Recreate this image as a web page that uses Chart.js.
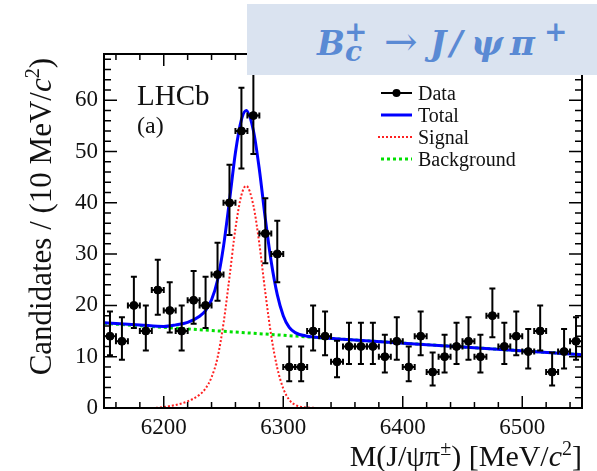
<!DOCTYPE html>
<html>
<head>
<meta charset="utf-8">
<script src="https://cdn.jsdelivr.net/npm/chart.js@4.4.0/dist/chart.umd.min.js"></script>
<style>
body { margin: 0; background: #fff; }
#wrap { position: relative; width: 597px; height: 471px; overflow: hidden; }
#myChart { position: absolute; left: 0; top: 0; }
#tbox { position: absolute; left: 247px; top: 4px; width: 350px; height: 71px; background: #dae3f0; }
#tbox span { position: absolute; color: #5a8ad4; font-family: 'DejaVu Serif', serif; font-weight: bold; font-style: italic; line-height: 1; white-space: nowrap; }
</style>
</head>
<body>
<div id="wrap">
  <canvas id="myChart" width="597" height="471"></canvas>
  <div id="tbox">
    <span style="left:70px; top:23px; font-size:33px;">B</span>
    <span style="left:97px; top:14px; font-size:28px;">+</span>
    <span style="left:98px; top:34px; font-size:28px;">c</span>
    <span style="left:137px; top:17px; font-size:40px; font-weight:normal; font-style:normal;">→</span>
    <span style="left:183px; top:22px; font-size:34px;">J</span>
    <span style="left:203px; top:22px; font-size:34px;">/</span>
    <span style="left:224px; top:22px; font-size:34px;">ψ</span>
    <span style="left:263px; top:22px; font-size:34px;">π</span>
    <span style="left:297px; top:14px; font-size:28px;">+</span>
  </div>
</div>
<script>
// binned data, 10 MeV bins
var massBins = [6155, 6165, 6175, 6185, 6195, 6205, 6215, 6225, 6235, 6245,
                6255, 6265, 6275, 6285, 6295, 6305, 6315, 6325, 6335, 6345,
                6355, 6365, 6375, 6385, 6395, 6405, 6415, 6425, 6435, 6445,
                6455, 6465, 6475, 6485, 6495, 6505, 6515, 6525, 6535, 6545]
var counts = [14, 13, 20, 15, 23, 19, 15, 21, 20, 26,
              40, 54, 57, 34, 30, 8, 8, 15, 14, 9,
              12, 12, 12, 10, 13, 8, 14, 7, 10, 12,
              13, 10, 18, 12, 14, 11, 15, 7, 11, 13]
var errLo = [3.7, 3.6, 4.4, 3.8, 4.8, 4.3, 3.8, 4.6, 4.4, 5.1,
             6.3, 7.3, 7.5, 5.8, 5.5, 2.8, 2.8, 3.8, 3.7, 3.0,
             3.4, 3.4, 3.4, 3.1, 3.6, 2.8, 3.7, 2.6, 3.1, 3.4,
             3.6, 3.1, 4.2, 3.4, 3.7, 3.3, 3.8, 2.6, 3.3, 3.6]
var errHi = [4.8, 4.7, 5.6, 5.0, 5.9, 5.5, 5.0, 5.7, 5.6, 6.2,
             7.4, 8.4, 8.6, 6.9, 6.5, 4.0, 4.0, 5.0, 4.8, 4.1,
             4.6, 4.6, 4.6, 4.3, 4.7, 4.0, 4.8, 3.8, 4.3, 4.6,
             4.7, 4.3, 5.3, 4.6, 4.8, 4.4, 5.0, 3.8, 4.4, 4.7]
var binHalf = 5

// fit curves
var totMass = [6150, 6180, 6200, 6210, 6220, 6230, 6235, 6240, 6245, 6250,
               6255, 6260, 6265, 6269, 6275, 6280, 6285, 6290, 6295, 6300,
               6305, 6310, 6320, 6330, 6350, 6450, 6550]
var totVals = [16.6, 16.2, 15.9, 16.2, 16.7, 17.9, 19.0, 21.1, 24.9, 31.5,
               40.4, 49.8, 56.2, 58.0, 54.1, 46.5, 36.9, 28.4, 22.1, 18.0,
               15.7, 14.7, 14.0, 13.75, 13.4, 11.9, 10.4]
var sigMass = [6150, 6190, 6200, 6210, 6220, 6230, 6235, 6240, 6245, 6250,
               6255, 6260, 6265, 6269, 6275, 6280, 6285, 6290, 6295, 6300,
               6305, 6310, 6320, 6335]
var sigVals = [0, 0, 0.2, 0.6, 1.3, 2.6, 3.8, 6, 9.8, 16.5,
               25.5, 35, 41.5, 43.3, 39.5, 32, 22.5, 14, 7.8, 3.8,
               1.6, 0.6, 0.1, 0]
var bkgMass = [6150, 6350, 6550]
var bkgVals = [16.5, 13.4, 10.4]

var xTickVals = [6200, 6300, 6400, 6500]
var yTickVals = [0, 10, 20, 30, 40, 50, 60]

var serif = "'Liberation Serif', 'Times New Roman', serif"

function pts(xs, ys){
    var out = []
    for (var i = 0; i < xs.length; i++){
        out.push({x: xs[i], y: ys[i]})
    }
    return out
}

function drawRich(ctx, parts, x, y, size){
    // right aligned at x, baseline y
    var w = 0
    var fonts = []
    for (var i = 0; i < parts.length; i++){
        var st = parts[i][1]
        var f = size + 'px ' + serif
        if (st == 'i') f = 'italic ' + size + 'px ' + serif
        if (st == 'sup') f = Math.round(size * 0.65) + 'px ' + serif
        fonts.push(f)
        ctx.font = f
        w += ctx.measureText(parts[i][0]).width
    }
    var cx = x - w
    ctx.textAlign = 'left'
    ctx.textBaseline = 'alphabetic'
    for (var i = 0; i < parts.length; i++){
        ctx.font = fonts[i]
        var dy = parts[i][1] == 'sup' ? -size * 0.38 : 0
        ctx.fillText(parts[i][0], cx, y + dy)
        cx += ctx.measureText(parts[i][0]).width
    }
}

var errorBars = {
    id: 'errorBars',
    afterDatasetsDraw: function(chart){
        var ctx = chart.ctx
        var xs = chart.scales.x, ys = chart.scales.y
        ctx.save()
        ctx.strokeStyle = '#000'
        ctx.lineWidth = 2
        for (var i = 0; i < massBins.length; i++){
            var px = xs.getPixelForValue(massBins[i])
            var py = ys.getPixelForValue(counts[i])
            var top = ys.getPixelForValue(counts[i] + errHi[i])
            var bot = ys.getPixelForValue(counts[i] - errLo[i])
            var l = xs.getPixelForValue(massBins[i] - binHalf)
            var r = xs.getPixelForValue(massBins[i] + binHalf)
            ctx.beginPath()
            ctx.moveTo(px, top); ctx.lineTo(px, bot)
            ctx.moveTo(px - 3, top); ctx.lineTo(px + 3, top)
            ctx.moveTo(px - 3, bot); ctx.lineTo(px + 3, bot)
            ctx.moveTo(l, py); ctx.lineTo(r, py)
            ctx.moveTo(l, py - 3); ctx.lineTo(l, py + 3)
            ctx.moveTo(r, py - 3); ctx.lineTo(r, py + 3)
            ctx.stroke()
        }
        ctx.restore()
    }
}

var frame = {
    id: 'frame',
    afterDraw: function(chart){
        var ctx = chart.ctx
        var a = chart.chartArea
        var xs = chart.scales.x, ys = chart.scales.y
        ctx.save()
        ctx.strokeStyle = '#000'
        ctx.lineWidth = 2
        ctx.strokeRect(a.left, a.top, a.right - a.left, a.bottom - a.top)
        ctx.lineWidth = 1.5
        ctx.beginPath()
        for (var m = 6160; m < 6550; m += 20){
            var px = xs.getPixelForValue(m)
            var len = (m % 100 == 0) ? 12 : 6
            ctx.moveTo(px, a.bottom); ctx.lineTo(px, a.bottom - len)
            ctx.moveTo(px, a.top); ctx.lineTo(px, a.top + len)
        }
        for (var v = 2; v < 69; v += 2){
            var py = ys.getPixelForValue(v)
            var len2 = (v % 10 == 0) ? 13 : 7
            ctx.moveTo(a.left, py); ctx.lineTo(a.left + len2, py)
            ctx.moveTo(a.right, py); ctx.lineTo(a.right - len2, py)
        }
        ctx.stroke()

        ctx.fillStyle = '#111'
        // axis titles
        drawRich(ctx, [['M(J/ψπ', ''], ['±', 'sup'], [') [MeV/', ''], ['c', 'i'], ['2', 'sup'], [']', '']], a.right, 466, 30)
        ctx.save()
        ctx.translate(51, 58)
        ctx.rotate(-Math.PI / 2)
        drawRich(ctx, [['Candidates / (10 MeV/', ''], ['c', 'i'], ['2', 'sup'], [')', '']], 0, 0, 31)
        ctx.restore()

        // LHCb label
        ctx.textAlign = 'left'
        ctx.textBaseline = 'alphabetic'
        ctx.font = '29px ' + serif
        ctx.fillText('LHCb', 137, 105)
        ctx.font = '24px ' + serif
        ctx.fillText('(a)', 137, 133)

        // legend
        var lx = 381, lw = 31, tx = 418
        var rows = [100, 122, 144, 166]
        ctx.font = '20px ' + serif
        ctx.fillText('Data', tx, rows[0])
        ctx.fillText('Total', tx, rows[1])
        ctx.fillText('Signal', tx, rows[2])
        ctx.fillText('Background', tx, rows[3])

        ctx.strokeStyle = '#000'; ctx.lineWidth = 2
        ctx.beginPath(); ctx.moveTo(lx, rows[0] - 7); ctx.lineTo(lx + lw, rows[0] - 7); ctx.stroke()
        ctx.beginPath(); ctx.arc(lx + lw / 2, rows[0] - 7, 4, 0, Math.PI * 2); ctx.fillStyle = '#000'; ctx.fill()

        ctx.strokeStyle = '#0000ff'; ctx.lineWidth = 3
        ctx.beginPath(); ctx.moveTo(lx, rows[1] - 7); ctx.lineTo(lx + lw, rows[1] - 7); ctx.stroke()

        ctx.strokeStyle = '#ff2020'; ctx.lineWidth = 2; ctx.setLineDash([2, 2])
        ctx.beginPath(); ctx.moveTo(lx - 3, rows[2] - 7); ctx.lineTo(lx + lw, rows[2] - 7); ctx.stroke()

        ctx.strokeStyle = '#00e000'; ctx.lineWidth = 3; ctx.setLineDash([3, 3])
        ctx.beginPath(); ctx.moveTo(lx, rows[3] - 7); ctx.lineTo(lx + lw, rows[3] - 7); ctx.stroke()
        ctx.restore()
    }
}

var ctx = document.getElementById('myChart').getContext('2d')
var myChart = new Chart(ctx, {
    type: 'scatter',
    data: {
        datasets: [
            {
                label: 'Data',
                data: pts(massBins, counts),
                backgroundColor: '#000',
                borderColor: '#000',
                pointRadius: 4,
                pointHoverRadius: 4,
                showLine: false
            },
            {
                label: 'Total',
                data: pts(totMass, totVals),
                borderColor: '#0000ff',
                borderWidth: 3,
                pointRadius: 0,
                showLine: true,
                cubicInterpolationMode: 'monotone'
            },
            {
                label: 'Signal',
                data: pts(sigMass, sigVals),
                borderColor: '#ff2020',
                borderWidth: 2,
                borderDash: [2, 2],
                pointRadius: 0,
                showLine: true,
                cubicInterpolationMode: 'monotone'
            },
            {
                label: 'Background',
                data: pts(bkgMass, bkgVals),
                borderColor: '#00e000',
                borderWidth: 3,
                borderDash: [3, 3],
                pointRadius: 0,
                showLine: true
            }
        ]
    },
    options: {
        responsive: false,
        animation: false,
        events: [],
        layout: { padding: { top: 54, right: 15, left: 0, bottom: 0 } },
        plugins: { legend: { display: false }, tooltip: { enabled: false } },
        scales: {
            x: {
                type: 'linear',
                min: 6150,
                max: 6550,
                grid: { display: false, drawTicks: false },
                border: { display: false },
                afterBuildTicks: function(scale){ scale.ticks = xTickVals.map(function(v){ return {value: v} }) },
                afterFit: function(scale){ scale.height = 63 },
                ticks: {
                    autoSkip: false,
                    maxRotation: 0,
                    padding: 6,
                    color: '#111',
                    font: { family: serif, size: 23 },
                    callback: function(v){ return String(v) }
                }
            },
            y: {
                type: 'linear',
                min: 0,
                max: 69,
                grid: { display: false, drawTicks: false },
                border: { display: false },
                afterBuildTicks: function(scale){ scale.ticks = yTickVals.map(function(v){ return {value: v} }) },
                afterFit: function(scale){ scale.width = 104 },
                ticks: {
                    padding: 6,
                    color: '#111',
                    font: { family: serif, size: 23 },
                    callback: function(v){ return String(v) }
                }
            }
        }
    },
    plugins: [errorBars, frame]
})
</script>
</body>
</html>
